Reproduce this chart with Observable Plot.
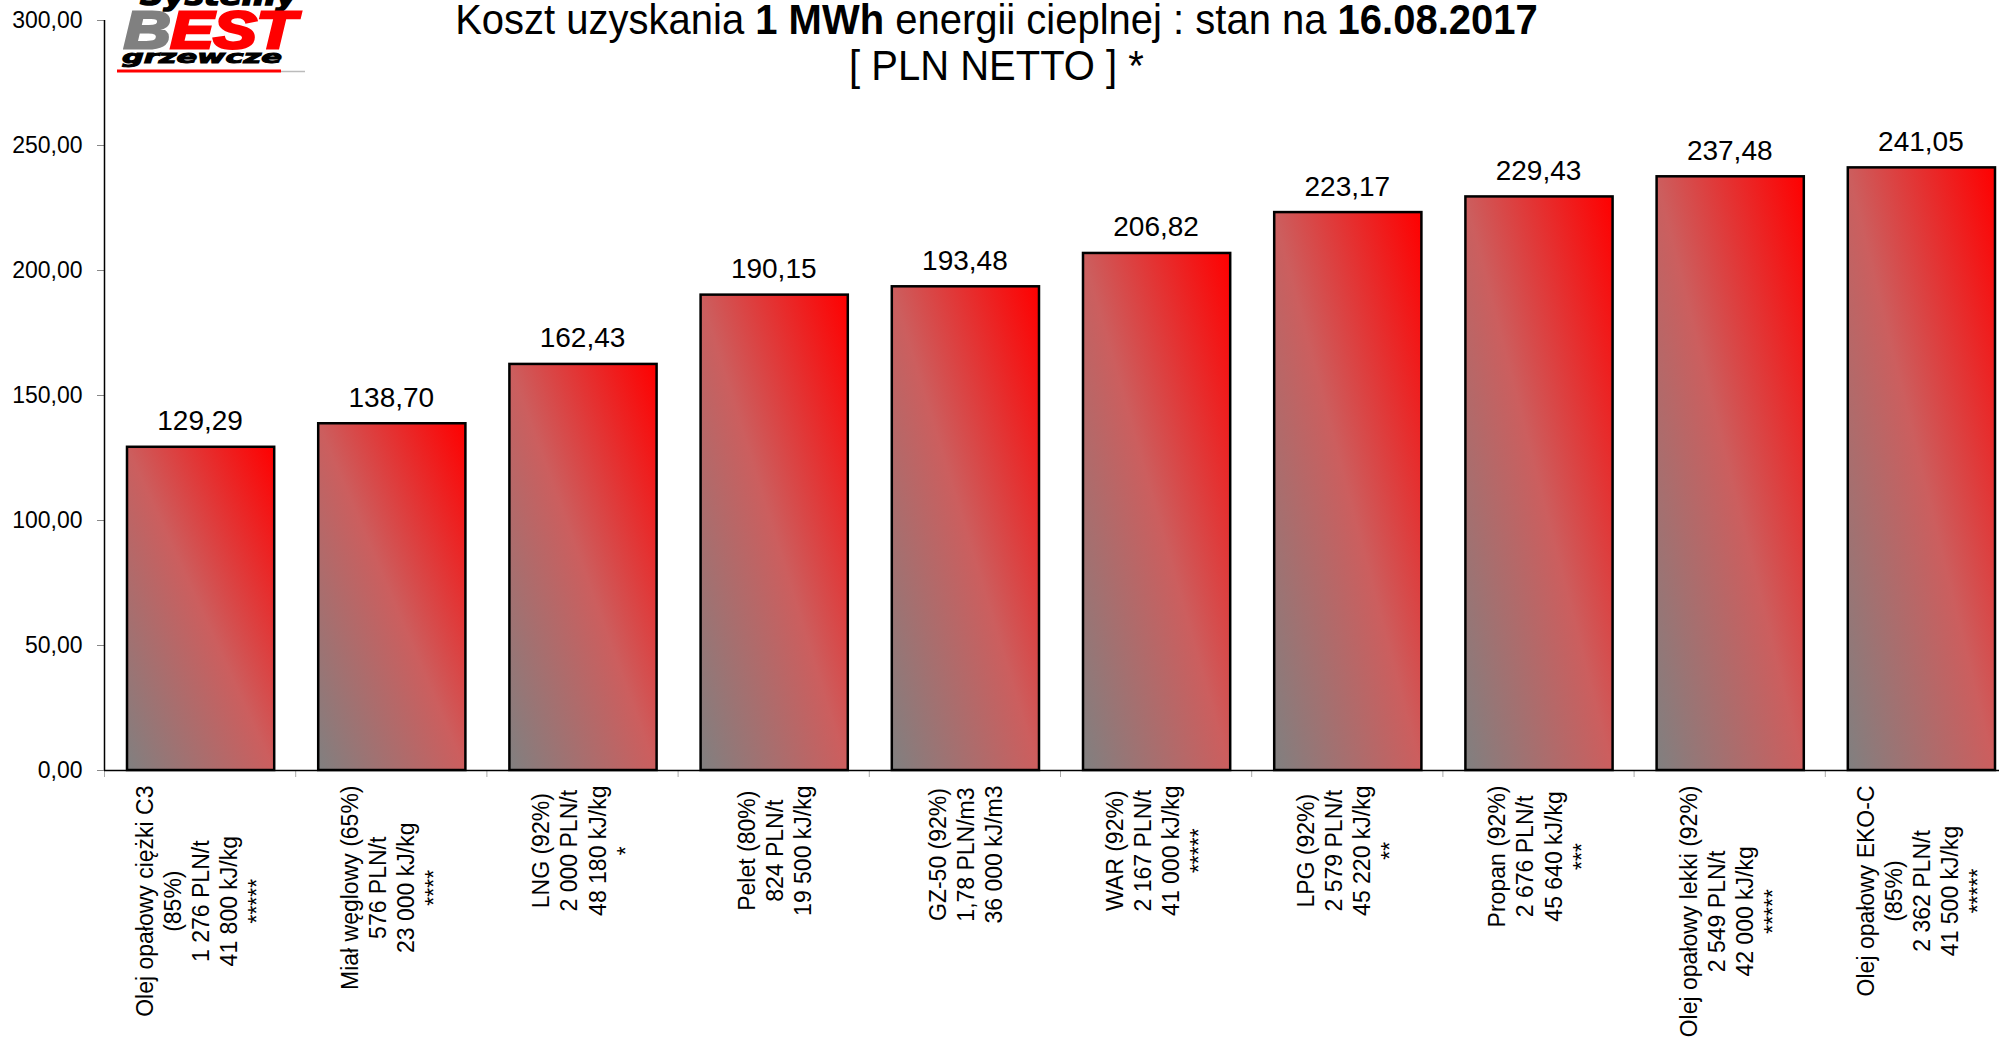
<!DOCTYPE html>
<html>
<head>
<meta charset="utf-8">
<script src="https://cdn.jsdelivr.net/npm/d3@7"></script>
<script src="https://cdn.jsdelivr.net/npm/@observablehq/plot@0.6"></script>
<style>
  html, body { margin: 0; padding: 0; background: #fff; }
  #wrap { position: relative; width: 1999px; height: 1044px; overflow: hidden; font-family: "Liberation Sans", Arial, sans-serif; }
  #chart { position: absolute; left: 0; top: 0; }
  #title { position: absolute; left: -3px; top: -4px; width: 1999px; text-align: center; font-size: 43px; line-height: 46px; color: #000; white-space: nowrap; transform: scaleX(0.93); transform-origin: 999px 0; }
  #logo { position: absolute; left: 0; top: 0; }
</style>
</head>
<body>
<div id="wrap">
  <div id="chart"></div>
  <svg id="logo" width="330" height="80">
    <text x="140" y="5" font-family="DejaVu Sans" font-weight="bold" font-style="italic" font-size="26" textLength="157" lengthAdjust="spacingAndGlyphs" fill="#000" stroke="#000" stroke-width="1.5">Systemy</text>
    <text x="124" y="48" font-family="Liberation Sans" font-weight="bold" font-style="italic" font-size="52" textLength="172" lengthAdjust="spacingAndGlyphs" stroke-width="3"><tspan fill="#808080" stroke="#808080">B</tspan><tspan fill="#ff0000" stroke="#ff0000">EST</tspan></text>
    <text x="122" y="63" font-family="DejaVu Sans" font-weight="bold" font-style="italic" font-size="17" textLength="160" lengthAdjust="spacingAndGlyphs" fill="#000" stroke="#000" stroke-width="1">grzewcze</text>
    <line x1="117" y1="71" x2="281" y2="71" stroke="#ff0000" stroke-width="3"></line>
    <line x1="281" y1="71.5" x2="305" y2="71.5" stroke="#bbb" stroke-width="1.5"></line>
  </svg>
  <div id="title">
    <div>Koszt uzyskania <b>1 MWh</b> energii cieplnej : stan na <b>16.08.2017</b></div>
    <div>[ PLN NETTO ] *</div>
  </div>
</div>
<script>
// ---- data ----
const categories = [
  "Olej opałowy ciężki C3\n(85%)\n1 276 PLN/t\n41 800 kJ/kg\n*****",
  "Miał węglowy (65%)\n576 PLN/t\n23 000 kJ/kg\n****",
  "LNG (92%)\n2 000 PLN/t\n48 180 kJ/kg\n*",
  "Pelet (80%)\n824 PLN/t\n19 500 kJ/kg",
  "GZ-50 (92%)\n1,78 PLN/m3\n36 000 kJ/m3",
  "WAR (92%)\n2 167 PLN/t\n41 000 kJ/kg\n*****",
  "LPG (92%)\n2 579 PLN/t\n45 220 kJ/kg\n**",
  "Propan (92%)\n2 676 PLN/t\n45 640 kJ/kg\n***",
  "Olej opałowy lekki (92%)\n2 549 PLN/t\n42 000 kJ/kg\n*****",
  "Olej opałowy EKO-C\n(85%)\n2 362 PLN/t\n41 500 kJ/kg\n*****"
];
const values = [129.29, 138.70, 162.43, 190.15, 193.48, 206.82, 223.17, 229.43, 237.48, 241.05];
const yTicks = [0, 50, 100, 150, 200, 250, 300];

// ---- build ----
const rows = categories.map((label, i) => ({i, label, value: values[i]}));
const fmt = v => v.toFixed(2).replace(".", ",");
const LABEL_FS = 23;
const ctx = document.createElement("canvas").getContext("2d");
ctx.font = `${LABEL_FS}px "Liberation Sans"`;
const longest = categories.map(s => d3.max(s.split("\n"), l => ctx.measureText(l).width));

const chart = Plot.plot({
  width: 1999,
  height: 1044,
  marginTop: 20,
  marginBottom: 274,
  marginLeft: 104,
  marginRight: 0,
  style: {fontFamily: "'Liberation Sans', Arial, sans-serif", background: "white", color: "black"},
  x: {type: "linear", domain: [0, categories.length], range: [104, 2016]},
  y: {domain: [0, 300]},
  marks: [
    Plot.rectY(rows, {x1: "i", x2: d => d.i + 1, y1: 0, y2: "value", insetLeft: 23, insetRight: 21,
      fill: "url(#barGrad)", stroke: "black", strokeWidth: 2.5}),
    Plot.axisY({ticks: yTicks, tickFormat: fmt, tickSize: 7, tickPadding: 15, fontSize: 23, stroke: "#888", label: null}),
    Plot.axisX({ticks: d3.range(0, categories.length + 1), tickFormat: () => "", tickSize: 7, stroke: "#aaa", label: null}),
    Plot.ruleX([0], {stroke: "black", strokeWidth: 1.5}),
    Plot.ruleY([0], {stroke: "black", strokeWidth: 1.5}),
    Plot.text(rows, {x: d => d.i + 0.5, y: "value", text: d => fmt(d.value), dy: -17, lineAnchor: "bottom", fontSize: 28, fill: "black"}),
    ...rows.map((r, k) => Plot.text([r], {
      x: d => d.i + 0.5, y: 0, text: "label", rotate: -90,
      textAnchor: "middle", lineAnchor: "middle", lineHeight: 1.22,
      dy: 15 + longest[k] / 2, fontSize: LABEL_FS, fill: "black"
    }))
  ]
});

// gradient definition used by the bars
const defs = d3.select(chart).insert("defs", ":first-child");
const g = defs.append("linearGradient").attr("id", "barGrad")
  .attr("x1", 0).attr("y1", 1).attr("x2", 1).attr("y2", 0);
g.append("stop").attr("offset", "0%").attr("stop-color", "#808080");
g.append("stop").attr("offset", "50%").attr("stop-color", "#cc5e5e");
g.append("stop").attr("offset", "100%").attr("stop-color", "#ff0000");

document.getElementById("chart").appendChild(chart);
</script>
</body>
</html>
